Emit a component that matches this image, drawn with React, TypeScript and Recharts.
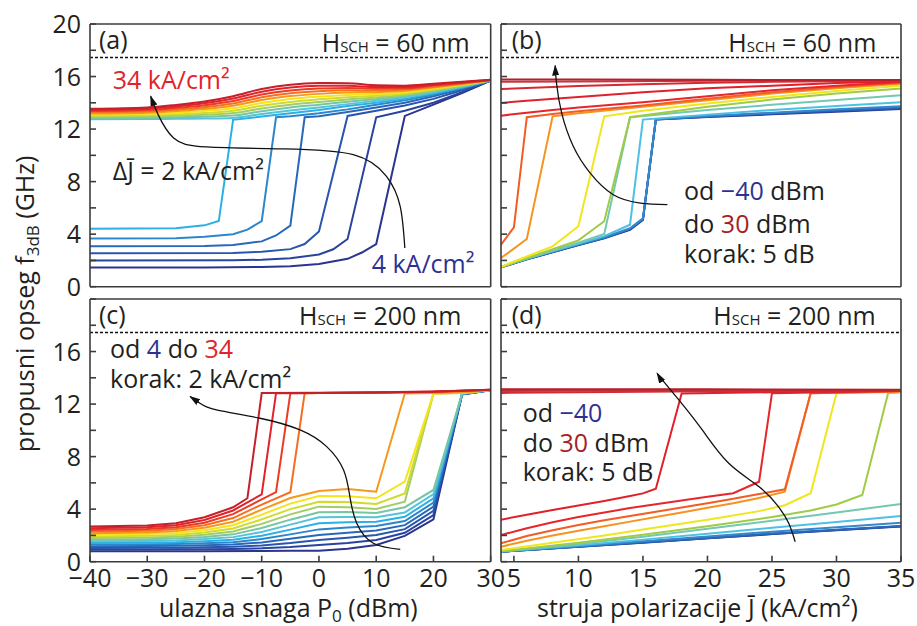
import React from "react";
import { LineChart, Line, XAxis, YAxis, ReferenceLine } from "recharts";

type Pt = [number, number];

const FONT = "'Open Sans', 'Noto Sans', 'DejaVu Sans', sans-serif";
const INK = "#231f20";
const FRAME = "#3c3c3c";

// axes
const pTicks = [-40, -30, -20, -10, 0, 10, 20, 30];
const jTicks = [5, 10, 15, 20, 25, 30, 35];
const fTicks = [0, 2, 4, 6, 8, 10, 12, 14, 16, 18, 20];
const cutoff = 17.45; // dashed line, GHz

// J = 4..34 kA/cm2 (a, c)
const jColors = [
  "#2b3590", "#2a449e", "#2855ad", "#2868bb", "#2c86cb", "#2bb0e6", "#55c4da", "#76c6a4",
  "#a2cd66", "#cfdc2b", "#f5e41c", "#f7981d", "#f37021", "#ec3b25", "#e2222a", "#c4202a",
];
// P0 = -40..30 dBm (b, d)
const pColors = [
  "#2b3a95", "#2b4fa6", "#2b67b8", "#3289cc", "#4ec0e4", "#72c8b0", "#9fcb47", "#f0e61c",
  "#f7921e", "#f15d25", "#e6262b", "#e1202a", "#d42a34", "#c9353e", "#b41f2a",
];

// ---------- (a) H_SCH = 60 nm, x = P0 ----------
const aJ4: Pt[] = [[-40, 1.47], [-20, 1.47], [-10, 1.5], [-5, 1.56], [0, 1.72], [5, 2.12], [7.5, 2.6], [10, 3.25], [15, 13.0], [20, 13.86], [25, 14.75], [30, 15.69]];
const aJ6: Pt[] = [[-40, 2.0], [-15, 2.01], [-10, 2.05], [-5, 2.16], [0, 2.45], [2.5, 2.85], [5, 3.63], [10, 12.9], [15, 13.4], [20, 14.0], [25, 14.8], [30, 15.7]];
const aJ8: Pt[] = [[-40, 2.54], [-15, 2.56], [-10, 2.66], [-5, 2.86], [-2.5, 3.25], [0, 4.2], [5, 13.0], [10, 13.4], [15, 13.8], [20, 14.3], [25, 14.95], [30, 15.7]];
const aJ10: Pt[] = [[-40, 3.07], [-20, 3.1], [-15, 3.18], [-10, 3.45], [-7.5, 3.9], [-5, 4.65], [-2.5, 12.9], [0, 12.97], [5, 13.3], [10, 13.65], [15, 14.0], [20, 14.5], [25, 15.05], [30, 15.7]];
const aJ12: Pt[] = [[-40, 3.66], [-25, 3.68], [-20, 3.8], [-15, 4.0], [-12.5, 4.34], [-10, 5.0], [-7.5, 12.9], [-5, 12.97], [0, 13.2], [5, 13.5], [10, 13.85], [15, 14.2], [20, 14.62], [25, 15.12], [30, 15.7]];
const aJ14: Pt[] = [[-40, 4.42], [-25, 4.45], [-20, 4.67], [-17.5, 5.0], [-15, 12.7], [-10, 12.95], [-5, 13.2], [0, 13.45], [5, 13.75], [10, 14.0], [15, 14.3], [20, 14.7], [25, 15.17], [30, 15.7]];
// J = 16..34 on a common P0 grid
const aP = [-40, -30, -25, -20, -15, -10, -5, 0, 5, 10, 15, 20, 25, 30];
const aJ16 = [12.75, 12.76, 12.78, 12.8, 12.85, 13.15, 13.42, 13.65, 13.9, 14.15, 14.42, 14.8, 15.22, 15.7];
const aJ18 = [12.84, 12.86, 12.9, 12.94, 13.03, 13.36, 13.64, 13.86, 14.08, 14.28, 14.52, 14.87, 15.26, 15.7];
const aJ20 = [12.93, 12.96, 13.02, 13.09, 13.22, 13.57, 13.86, 14.06, 14.25, 14.41, 14.62, 14.94, 15.3, 15.71];
const aJ22 = [13.02, 13.06, 13.13, 13.23, 13.4, 13.78, 14.07, 14.27, 14.43, 14.54, 14.71, 15.02, 15.35, 15.71];
const aJ24 = [13.11, 13.16, 13.25, 13.38, 13.58, 13.99, 14.29, 14.47, 14.6, 14.67, 14.81, 15.09, 15.39, 15.72];
const aJ26 = [13.19, 13.25, 13.37, 13.52, 13.77, 14.21, 14.51, 14.68, 14.78, 14.81, 14.91, 15.16, 15.43, 15.72];
const aJ28 = [13.28, 13.35, 13.49, 13.67, 13.95, 14.42, 14.73, 14.88, 14.95, 14.94, 15.01, 15.23, 15.47, 15.73];
const aJ30 = [13.37, 13.45, 13.6, 13.81, 14.13, 14.63, 14.94, 15.09, 15.13, 15.07, 15.1, 15.31, 15.51, 15.73];
const aJ32 = [13.46, 13.55, 13.72, 13.96, 14.32, 14.84, 15.16, 15.29, 15.3, 15.2, 15.2, 15.38, 15.56, 15.74];
const aJ34 = [13.55, 13.65, 13.84, 14.1, 14.5, 15.05, 15.38, 15.5, 15.48, 15.33, 15.3, 15.45, 15.6, 15.75];

// ---------- (b) H_SCH = 60 nm, x = J ----------
const bPm40: Pt[] = [[4, 1.47], [6, 2.08], [8, 2.62], [10, 3.17], [12, 3.68], [14, 4.32], [15, 5.08], [16, 12.72], [20, 12.92], [25, 13.12], [30, 13.32], [35, 13.52]];
const bPm35: Pt[] = [[4, 1.48], [6, 2.09], [8, 2.63], [10, 3.18], [12, 3.7], [14, 4.36], [15, 5.12], [16, 12.73], [20, 12.94], [25, 13.16], [30, 13.37], [35, 13.57]];
const bPm30: Pt[] = [[4, 1.49], [6, 2.1], [8, 2.65], [10, 3.2], [12, 3.73], [14, 4.4], [15, 5.15], [16, 12.74], [20, 12.97], [25, 13.2], [30, 13.42], [35, 13.64]];
const bPm25: Pt[] = [[4, 1.5], [6, 2.12], [8, 2.67], [10, 3.23], [12, 3.77], [14, 4.45], [15, 5.2], [16, 12.75], [20, 13.0], [25, 13.25], [30, 13.5], [35, 13.74]];
const bPm20: Pt[] = [[4, 1.5], [6, 2.13], [8, 2.7], [10, 3.27], [12, 3.85], [14, 4.72], [15, 12.72], [20, 13.1], [25, 13.45], [30, 13.75], [35, 14.04]];
const bPm15: Pt[] = [[4, 1.5], [6, 2.15], [8, 2.75], [10, 3.35], [12, 4.01], [14, 12.9], [20, 13.45], [25, 13.85], [30, 14.22], [35, 14.57]];
const bPm10: Pt[] = [[4, 1.5], [6, 2.18], [8, 2.85], [10, 3.53], [12, 4.98], [14, 12.9], [20, 13.7], [25, 14.25], [30, 14.7], [35, 15.08]];
const bPm5: Pt[] = [[4, 1.52], [6, 2.3], [8, 3.07], [10, 4.6], [12, 12.97], [15, 13.4], [20, 13.95], [25, 14.45], [30, 14.9], [35, 15.3]];
const bP0: Pt[] = [[4, 2.18], [6, 3.63], [8, 12.97], [10, 13.2], [15, 13.7], [20, 14.2], [25, 14.7], [30, 15.1], [35, 15.45]];
const bP5: Pt[] = [[4, 3.2], [5, 4.52], [6, 12.9], [8, 13.15], [10, 13.35], [15, 13.8], [20, 14.3], [25, 14.8], [30, 15.2], [35, 15.52]];
const bP10: Pt[] = [[4, 13.02], [6, 13.25], [8, 13.45], [10, 13.65], [15, 14.05], [20, 14.5], [25, 14.95], [30, 15.3], [35, 15.58]];
const bP15: Pt[] = [[4, 13.99], [6, 14.15], [10, 14.45], [15, 14.8], [20, 15.1], [25, 15.3], [30, 15.5], [35, 15.63]];
const bP20: Pt[] = [[4, 15.05], [6, 15.13], [10, 15.28], [15, 15.42], [20, 15.52], [25, 15.6], [30, 15.65], [35, 15.67]];
const bP25: Pt[] = [[4, 15.6], [10, 15.63], [20, 15.67], [35, 15.7]];
const bP30: Pt[] = [[4, 15.77], [10, 15.77], [20, 15.75], [35, 15.73]];

// ---------- (c) H_SCH = 200 nm, x = P0 ----------
const cJ4: Pt[] = [[-40, 0.8], [-30, 0.8], [-20, 0.8], [-10, 0.82], [-5, 0.83], [0, 0.84], [5, 0.98], [10, 1.27], [15, 1.96], [20, 3.23], [25, 12.72], [30, 13.06]];
const cJ6: Pt[] = [[-40, 0.92], [-30, 0.93], [-25, 0.94], [-20, 0.95], [-15, 0.97], [-10, 1.02], [-5, 1.12], [0, 1.27], [5, 1.42], [10, 1.65], [15, 2.2], [20, 3.55], [25, 12.74], [30, 13.06]];
const cJ8: Pt[] = [[-40, 1.05], [-30, 1.06], [-25, 1.07], [-20, 1.1], [-15, 1.13], [-10, 1.24], [-5, 1.42], [0, 1.65], [5, 1.82], [10, 2.03], [15, 2.48], [20, 3.87], [25, 12.75], [30, 13.07]];
const cJ10: Pt[] = [[-40, 1.17], [-30, 1.19], [-25, 1.21], [-20, 1.25], [-15, 1.3], [-10, 1.47], [-5, 1.74], [0, 2.03], [5, 2.2], [10, 2.38], [15, 2.78], [20, 4.19], [25, 12.76], [30, 13.07]];
const cJ12: Pt[] = [[-40, 1.3], [-30, 1.32], [-25, 1.34], [-20, 1.4], [-15, 1.48], [-10, 1.72], [-5, 2.08], [0, 2.46], [5, 2.6], [10, 2.72], [15, 3.1], [20, 4.5], [25, 12.77], [30, 13.07]];
const cJ14: Pt[] = [[-40, 1.42], [-30, 1.45], [-25, 1.48], [-20, 1.56], [-15, 1.67], [-10, 1.98], [-5, 2.44], [0, 2.92], [5, 3.0], [10, 3.05], [15, 3.42], [20, 4.82], [25, 12.78], [30, 13.08]];
const cJ16: Pt[] = [[-40, 1.55], [-30, 1.58], [-25, 1.62], [-20, 1.72], [-15, 1.87], [-10, 2.26], [-5, 2.82], [0, 3.38], [5, 3.4], [10, 3.38], [15, 3.75], [20, 5.14], [25, 12.79], [30, 13.08]];
const cJ18: Pt[] = [[-40, 1.67], [-30, 1.71], [-25, 1.76], [-20, 1.88], [-15, 2.08], [-10, 2.56], [-5, 3.2], [0, 3.76], [5, 3.78], [10, 3.7], [15, 4.15], [20, 5.46], [25, 12.8], [30, 13.08]];
const cJ20: Pt[] = [[-40, 1.8], [-30, 1.84], [-25, 1.9], [-20, 2.05], [-15, 2.3], [-10, 2.88], [-5, 3.6], [0, 4.19], [5, 4.15], [10, 4.02], [15, 4.57], [20, 12.78], [25, 12.85], [30, 13.08]];
const cJ22: Pt[] = [[-40, 1.92], [-30, 1.97], [-25, 2.04], [-20, 2.22], [-15, 2.53], [-10, 3.22], [-5, 4.0], [0, 4.57], [5, 4.55], [10, 4.4], [15, 5.2], [20, 12.8], [25, 12.86], [30, 13.08]];
const cJ24: Pt[] = [[-40, 2.05], [-30, 2.1], [-25, 2.18], [-20, 2.4], [-15, 2.78], [-10, 3.58], [-5, 4.42], [0, 5.0], [5, 4.98], [10, 4.83], [15, 6.09], [20, 12.8], [25, 12.87], [30, 13.08]];
const cJ26: Pt[] = [[-40, 2.17], [-30, 2.23], [-25, 2.33], [-20, 2.58], [-15, 3.04], [-10, 3.96], [-5, 4.85], [0, 5.38], [5, 5.53], [10, 5.33], [15, 12.8], [20, 12.84], [25, 12.88], [30, 13.08]];
const cJ28: Pt[] = [[-40, 2.3], [-30, 2.36], [-25, 2.48], [-20, 2.77], [-15, 3.32], [-10, 4.35], [-5, 5.29], [-2.5, 12.82], [0, 12.84], [10, 12.86], [20, 12.92], [30, 13.08]];
const cJ30: Pt[] = [[-40, 2.42], [-30, 2.49], [-25, 2.63], [-20, 2.97], [-15, 3.62], [-10, 4.75], [-7.5, 5.29], [-5, 12.82], [0, 12.84], [10, 12.87], [20, 12.93], [30, 13.09]];
const cJ32: Pt[] = [[-40, 2.55], [-30, 2.62], [-25, 2.78], [-20, 3.17], [-15, 3.9], [-10, 5.13], [-7.5, 12.83], [0, 12.85], [10, 12.88], [20, 12.94], [30, 13.09]];
const cJ34: Pt[] = [[-40, 2.67], [-30, 2.75], [-25, 2.93], [-20, 3.38], [-15, 4.14], [-12.5, 4.83], [-10, 12.84], [0, 12.87], [10, 12.9], [20, 12.96], [30, 13.1]];

// ---------- (d) H_SCH = 200 nm, x = J ----------
const dPm40: Pt[] = [[4, 0.76], [10, 1.13], [15, 1.45], [20, 1.78], [25, 2.1], [30, 2.4], [35, 2.68]];
const dPm35: Pt[] = [[4, 0.76], [10, 1.14], [15, 1.46], [20, 1.79], [25, 2.11], [30, 2.42], [35, 2.7]];
const dPm30: Pt[] = [[4, 0.77], [10, 1.15], [15, 1.48], [20, 1.81], [25, 2.14], [30, 2.44], [35, 2.72]];
const dPm25: Pt[] = [[4, 0.77], [10, 1.18], [15, 1.55], [20, 1.92], [25, 2.28], [30, 2.63], [35, 2.97]];
const dPm20: Pt[] = [[4, 0.78], [10, 1.25], [15, 1.68], [20, 2.12], [25, 2.58], [30, 3.03], [35, 3.48]];
const dPm15: Pt[] = [[4, 0.79], [10, 1.35], [15, 1.9], [20, 2.5], [25, 3.12], [30, 3.75], [35, 4.39]];
const dPm10: Pt[] = [[4, 0.8], [10, 1.45], [15, 2.05], [20, 2.7], [25, 3.4], [28, 3.9], [30, 4.35], [32, 5.08], [34, 12.82], [35, 12.9]];
const dPm5: Pt[] = [[4, 0.89], [8, 1.45], [12, 2.0], [16, 2.6], [20, 3.2], [24, 3.85], [26, 4.3], [28, 5.21], [30, 12.82], [35, 12.92]];
const dP0: Pt[] = [[4, 1.14], [6, 1.6], [8, 2.0], [10, 2.35], [12, 2.7], [14, 3.05], [16, 3.4], [18, 3.75], [20, 4.1], [22, 4.45], [24, 4.85], [26, 5.33], [28, 12.82], [35, 12.95]];
const dP5: Pt[] = [[4, 1.4], [6, 1.95], [8, 2.4], [10, 2.8], [12, 3.15], [14, 3.48], [16, 3.8], [18, 4.12], [20, 4.45], [22, 4.8], [24, 5.15], [26, 5.51], [28, 12.82], [35, 12.98]];
const dP10: Pt[] = [[4, 2.03], [6, 2.55], [8, 3.0], [10, 3.4], [12, 3.75], [14, 4.08], [16, 4.38], [18, 4.66], [20, 4.94], [22, 5.21], [24, 6.09], [25, 12.82], [35, 13.0]];
const dP15: Pt[] = [[4, 3.2], [6, 3.58], [8, 3.93], [10, 4.27], [12, 4.62], [14, 5.0], [15, 5.2], [16, 5.55], [18, 12.8], [25, 12.9], [35, 13.03]];
const dP20: Pt[] = [[4, 12.85], [10, 12.9], [20, 12.97], [35, 13.05]];
const dP25: Pt[] = [[4, 13.0], [20, 13.05], [35, 13.08]];
const dP30: Pt[] = [[4, 13.12], [20, 13.12], [35, 13.1]];

// annotation arrows (data coordinates)
const arrowA: Pt[] = [[15.0, 2.95], [14.2, 6.1], [11.8, 8.4], [6.0, 10.05], [-6.2, 10.49], [-19.6, 10.64], [-25.4, 11.32], [-28.1, 13.1], [-29.4, 14.5]];
const arrowB: Pt[] = [[16.9, 6.25], [14.8, 6.37], [12.7, 7.0], [10.9, 8.66], [9.6, 10.69], [8.7, 13.23], [8.3, 15.51], [8.2, 16.83]];
const arrowC: Pt[] = [[14.2, 0.94], [9.5, 1.4], [6.6, 2.92], [5.4, 4.95], [4.3, 6.98], [1.35, 8.76], [-3.3, 10.03], [-10.3, 10.92], [-17.9, 11.55], [-20.8, 12.06], [-22.5, 12.57]];
const arrowD: Pt[] = [[26.8, 1.52], [26.3, 2.92], [25.5, 4.19], [24.0, 5.71], [21.65, 7.49], [19.6, 10.03], [18.0, 12.06], [16.5, 13.84], [16.1, 14.35]];

type Series = { pts: Pt[]; color: string; curve?: "linear" | "monotone" | "natural"; arrow?: boolean };

const onGrid = (vals: number[]): Pt[] => vals.map((v, i) => [aP[i], v]);

const seriesA: Series[] = [
  ...[aJ4, aJ6, aJ8, aJ10, aJ12, aJ14].map((pts, i) => ({ pts, color: jColors[i] })),
  ...[aJ16, aJ18, aJ20, aJ22, aJ24, aJ26, aJ28, aJ30, aJ32, aJ34].map((v, i) => ({
    pts: onGrid(v), color: jColors[i + 6], curve: "monotone" as const,
  })),
  { pts: arrowA, color: "#111", curve: "natural", arrow: true },
];
const seriesB: Series[] = [
  ...[bPm40, bPm35, bPm30, bPm25, bPm20, bPm15, bPm10, bPm5, bP0, bP5, bP10, bP15, bP20, bP25, bP30].map(
    (pts, i) => ({ pts, color: pColors[i] })
  ),
  { pts: arrowB, color: "#111", curve: "natural", arrow: true },
];
const seriesC: Series[] = [
  ...[cJ4, cJ6, cJ8, cJ10, cJ12, cJ14, cJ16, cJ18, cJ20, cJ22, cJ24, cJ26, cJ28, cJ30, cJ32, cJ34].map(
    (pts, i) => ({ pts, color: jColors[i] })
  ),
  { pts: arrowC, color: "#111", curve: "natural", arrow: true },
];
const seriesD: Series[] = [
  ...[dPm40, dPm35, dPm30, dPm25, dPm20, dPm15, dPm10, dPm5, dP0, dP5, dP10, dP15, dP20, dP25, dP30].map(
    (pts, i) => ({ pts, color: pColors[i] })
  ),
  { pts: arrowD, color: "#111", curve: "natural", arrow: true },
];

const fmt = (v: number) => (v < 0 ? `\u2212${-v}` : `${v}`);
const axisStyle = { stroke: FRAME, strokeWidth: 1.6 };

function Panel(props: {
  id: string; left: number; top: number; w: number; h: number;
  xDomain: [number, number]; xTicks: number[]; series: Series[];
  xLabels: boolean; yLabels: boolean; yMax: number;
}) {
  const { id, left, top, w, h, xDomain, xTicks, series, xLabels, yLabels, yMax } = props;
  const xTick = (p: any) => (
    <text x={p.x} y={p.y} dy={25} textAnchor="middle" fontFamily={FONT} fontSize={25} fill={INK}>
      {fmt(p.payload.value)}
    </text>
  );
  const yTick = (p: any) => {
    const v = p.payload.value;
    if (!yLabels || v % 4 !== 0 || v > yMax) return <g />;
    return (
      <text x={p.x} y={p.y} dy={9} textAnchor="end" fontFamily={FONT} fontSize={25} fill={INK}>
        {v}
      </text>
    );
  };
  return (
    <div style={{ position: "absolute", left: left - 60, top: top - 20 }}>
      <LineChart width={w + 80} height={h + 60} margin={{ top: 19, right: 19, bottom: 0, left: 0 }}>
        <defs>
          <marker id={`ah-${id}`} viewBox="0 0 10 10" refX={9} refY={5} markerWidth={11} markerHeight={11}
            markerUnits="userSpaceOnUse" orient="auto">
            <path d="M0,1.8 L10,5 L0,8.2 Z" fill="#111" />
          </marker>
        </defs>
        <XAxis dataKey="x" type="number" domain={xDomain} ticks={xTicks} interval={0} allowDataOverflow
          height={40} tickSize={-6} tickMargin={6} axisLine={axisStyle} tickLine={axisStyle}
          tick={xLabels ? xTick : false} />
        <XAxis xAxisId="top" orientation="top" dataKey="x" type="number" domain={xDomain} ticks={xTicks}
          interval={0} allowDataOverflow height={1} tickSize={-6} axisLine={axisStyle} tickLine={axisStyle} tick={false} />
        <YAxis type="number" domain={[0, 20]} ticks={fTicks} interval={0} allowDataOverflow width={60}
          tickSize={-6} tickMargin={15} axisLine={axisStyle} tickLine={axisStyle} tick={yTick} />
        <YAxis yAxisId="right" orientation="right" type="number" domain={[0, 20]} ticks={fTicks} interval={0}
          allowDataOverflow width={1} tickSize={-6} axisLine={axisStyle} tickLine={axisStyle} tick={false} />
        <ReferenceLine y={cutoff} stroke="#111" strokeWidth={1.4} strokeDasharray="3 2" />
        {series.map((s, i) => (
          <Line key={i} data={s.pts.map(([x, y]) => ({ x, y }))} dataKey="y" type={s.curve ?? "linear"}
            stroke={s.color} strokeWidth={s.arrow ? 1.3 : 2} dot={false} activeDot={false}
            isAnimationActive={false} markerEnd={s.arrow ? `url(#ah-${id})` : undefined} />
        ))}
      </LineChart>
    </div>
  );
}

const NAVY = "#2e3192";
const RED = "#e0242b";
const DARKRED = "#a61e22";

export default function App() {
  return (
    <div style={{ position: "absolute", left: 0, top: 0, width: 917, height: 626, background: "#fff" }}>
      <Panel id="a" left={90} top={24.3} w={400.7} h={262.7} xDomain={[-40, 30]} xTicks={pTicks}
        series={seriesA} xLabels={false} yLabels yMax={20} />
      <Panel id="b" left={500.7} top={24.3} w={400} h={262.7} xDomain={[4, 35]} xTicks={jTicks}
        series={seriesB} xLabels={false} yLabels={false} yMax={20} />
      <Panel id="c" left={90} top={299} w={400.7} h={262.7} xDomain={[-40, 30]} xTicks={pTicks}
        series={seriesC} xLabels yLabels yMax={16} />
      <Panel id="d" left={500.7} top={299} w={400} h={262.7} xDomain={[4, 35]} xTicks={jTicks}
        series={seriesD} xLabels yLabels={false} yMax={20} />

      <svg width={917} height={626} style={{ position: "absolute", left: 0, top: 0, pointerEvents: "none" }}
        fontFamily={FONT} fontSize={25} fill={INK}>
        {/* axis titles */}
        <text transform="rotate(-90)" x={-304} y={34} textAnchor="middle">
          propusni opseg f<tspan fontSize={17} dy={5}>3dB</tspan><tspan dy={-5}> (GHz)</tspan>
        </text>
        <text x={159} y={617}>
          ulazna snaga P<tspan fontSize={17} dy={5}>0</tspan><tspan dy={-5}> (dBm)</tspan>
        </text>
        <text x={537} y={617}>struja polarizacije J&#x0304; (kA/cm²)</text>

        {/* (a) */}
        <text x={99} y={49}>(a)</text>
        <text x={321.7} y={51.7}>H<tspan fontSize={15}>SCH</tspan> = 60 nm</text>
        <text x={112.7} y={89.3} fill={RED}>34 kA/cm²</text>
        <text x={112.7} y={180}>ΔJ&#x0304; = 2 kA/cm²</text>
        <text x={371.7} y={273.3} fill={NAVY}>4 kA/cm²</text>

        {/* (b) */}
        <text x={511.7} y={49}>(b)</text>
        <text x={728.3} y={51.7}>H<tspan fontSize={15}>SCH</tspan> = 60 nm</text>
        <text x={684} y={200}>od <tspan fill={NAVY}>−40</tspan> dBm</text>
        <text x={684} y={233.3}>do <tspan fill={DARKRED}>30</tspan> dBm</text>
        <text x={684} y={263.3}>korak: 5 dB</text>

        {/* (c) */}
        <text x={99} y={324}>(c)</text>
        <text x={299} y={325}>H<tspan fontSize={15}>SCH</tspan> = 200 nm</text>
        <text x={110} y={358.3}>od <tspan fill={NAVY}>4</tspan> do <tspan fill={RED}>34</tspan></text>
        <text x={110} y={388.3}>korak: 2 kA/cm²</text>

        {/* (d) */}
        <text x={511.7} y={324}>(d)</text>
        <text x={713.3} y={325}>H<tspan fontSize={15}>SCH</tspan> = 200 nm</text>
        <text x={522.7} y={421.7}>od <tspan fill={NAVY}>−40</tspan></text>
        <text x={522.7} y={452.3}>do <tspan fill={DARKRED}>30</tspan> dBm</text>
        <text x={522.7} y={480.7}>korak: 5 dB</text>
      </svg>
    </div>
  );
}
